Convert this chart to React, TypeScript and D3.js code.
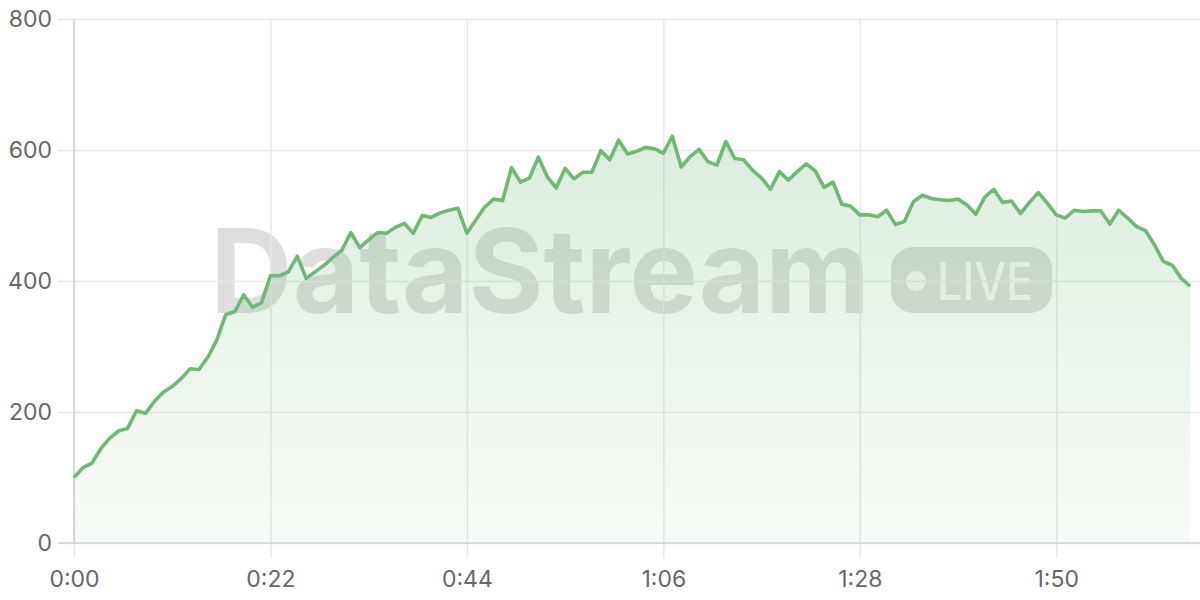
import React, { useRef, useEffect } from 'react';
import * as d3 from 'd3';

const width = 1200;
const height = 600;
const margin = { top: 19, right: 0, bottom: 57, left: 74 };

// one reading per second, 0:00 .. 2:05
const values = [
  100, 115, 122, 144, 160, 171, 175, 202, 198, 216,
  230, 239, 251, 266, 265, 284, 310, 349, 353, 379,
  360, 367, 408, 408, 414, 438, 404, 414, 424, 436,
  447, 474, 451, 463, 474, 473, 482, 488, 473, 500,
  497, 504, 508, 511, 473, 493, 513, 525, 523, 573,
  551, 557, 589, 559, 542, 572, 556, 566, 566, 599,
  585, 615, 594, 598, 604, 602, 595, 621, 574, 590,
  601, 582, 577, 613, 587, 585, 569, 557, 540, 567,
  554, 567, 579, 568, 543, 551, 517, 514, 501, 501,
  498, 508, 486, 491, 521, 531, 526, 524, 523, 525,
  516, 502, 528, 540, 520, 522, 503, 520, 535, 519,
  501, 496, 508, 506, 507, 507, 487, 508, 496, 483,
  477, 455, 430, 424, 404, 392,
];
const seconds = values.map((_, i) => i);
const xTicks = [0, 22, 44, 66, 88, 110];
const yTicks = [0, 200, 400, 600, 800];

const lineColor = '#70b974';
const fmt = (s: number) => `${Math.floor(s / 60)}:${String(s % 60).padStart(2, '0')}`;

const App: React.FC = () => {
  const ref = useRef<SVGSVGElement>(null);

  useEffect(() => {
    const svg = d3.select(ref.current);
    svg.selectAll('*').remove();

    const x = d3
      .scaleLinear()
      .domain([0, 126.1])
      .range([margin.left, width - margin.right]);
    const y = d3
      .scaleLinear()
      .domain([0, 800])
      .range([height - margin.bottom, margin.top]);

    const defs = svg.append('defs');
    const grad = defs
      .append('linearGradient')
      .attr('id', 'areaFill')
      .attr('gradientUnits', 'userSpaceOnUse')
      .attr('x1', 0)
      .attr('x2', 0)
      .attr('y1', y(620))
      .attr('y2', y(0));
    grad.append('stop').attr('offset', 0).attr('stop-color', lineColor).attr('stop-opacity', 0.25);
    grad.append('stop').attr('offset', 1).attr('stop-color', lineColor).attr('stop-opacity', 0.05);

    /** watermark */
    const wm = svg.append('g').attr('pointer-events', 'none');
    wm.append('text')
      .attr('x', 210)
      .attr('y', 313)
      .attr('font-family', 'Inter, sans-serif')
      .attr('font-weight', 700)
      .attr('font-size', 117)
      .attr('textLength', 660)
      .attr('lengthAdjust', 'spacingAndGlyphs')
      .attr('fill', '#000')
      .attr('fill-opacity', 0.13)
      .text('DataStream');
    wm.append('rect')
      .attr('x', 891)
      .attr('y', 247)
      .attr('width', 161)
      .attr('height', 66)
      .attr('rx', 22)
      .attr('fill', '#000')
      .attr('fill-opacity', 0.13);
    wm.append('circle').attr('cx', 916).attr('cy', 281).attr('r', 10).attr('fill', '#fff').attr('fill-opacity', 0.85);
    wm.append('text')
      .attr('x', 937)
      .attr('y', 300)
      .attr('font-family', 'Inter, sans-serif')
      .attr('font-weight', 500)
      .attr('font-size', 52)
      .attr('textLength', 96)
      .attr('lengthAdjust', 'spacingAndGlyphs')
      .attr('fill', '#fff')
      .attr('fill-opacity', 0.85)
      .text('LIVE');

    /** grid + tick labels */
    const yAxis = svg
      .append('g')
      .attr('transform', `translate(58,0)`)
      .call(
        d3
          .axisLeft(y)
          .tickValues(yTicks)
          .tickSize(-(width - 58))
          .tickPadding(6)
          .tickFormat((d) => String(d)),
      );
    const xAxis = svg
      .append('g')
      .attr('transform', `translate(0,${height - margin.bottom + 15})`)
      .call(
        d3
          .axisBottom(x)
          .tickValues(xTicks)
          .tickSize(-(height - margin.bottom + 15 - margin.top))
          .tickPadding(13)
          .tickFormat((d) => fmt(Number(d))),
      );
    [yAxis, xAxis].forEach((g) => {
      g.select('.domain').remove();
      g.selectAll('.tick line').attr('stroke', '#e8e8e8').attr('stroke-width', 1.5);
      g.selectAll('.tick text')
        .attr('fill', '#666')
        .attr('font-size', 23)
        .attr('font-family', 'Inter, sans-serif');
    });

    /** area + line */
    const area = d3
      .area<number>()
      .x((d, i) => x(seconds[i]))
      .y0(y(0))
      .y1((d) => y(d));
    const line = d3
      .line<number>()
      .x((d, i) => x(seconds[i]))
      .y((d) => y(d));

    svg.append('path').datum(values).attr('d', area).attr('fill', 'url(#areaFill)');

    /** axis lines */
    svg
      .append('line')
      .attr('x1', 58)
      .attr('x2', width)
      .attr('y1', y(0))
      .attr('y2', y(0))
      .attr('stroke', '#d0d0d0')
      .attr('stroke-width', 1.5);
    svg
      .append('line')
      .attr('x1', x(0))
      .attr('x2', x(0))
      .attr('y1', y(800))
      .attr('y2', y(0))
      .attr('stroke', '#d0d0d0')
      .attr('stroke-width', 1.5);

    svg
      .append('path')
      .datum(values)
      .attr('d', line)
      .attr('fill', 'none')
      .attr('stroke', lineColor)
      .attr('stroke-width', 3.6)
      .attr('stroke-linejoin', 'round');
  }, []);

  return (
    <svg
      ref={ref}
      width={width}
      height={height}
      viewBox={`0 0 ${width} ${height}`}
      style={{ position: 'absolute', left: 0, top: 0, background: '#fff' }}
    />
  );
};

export default App;
